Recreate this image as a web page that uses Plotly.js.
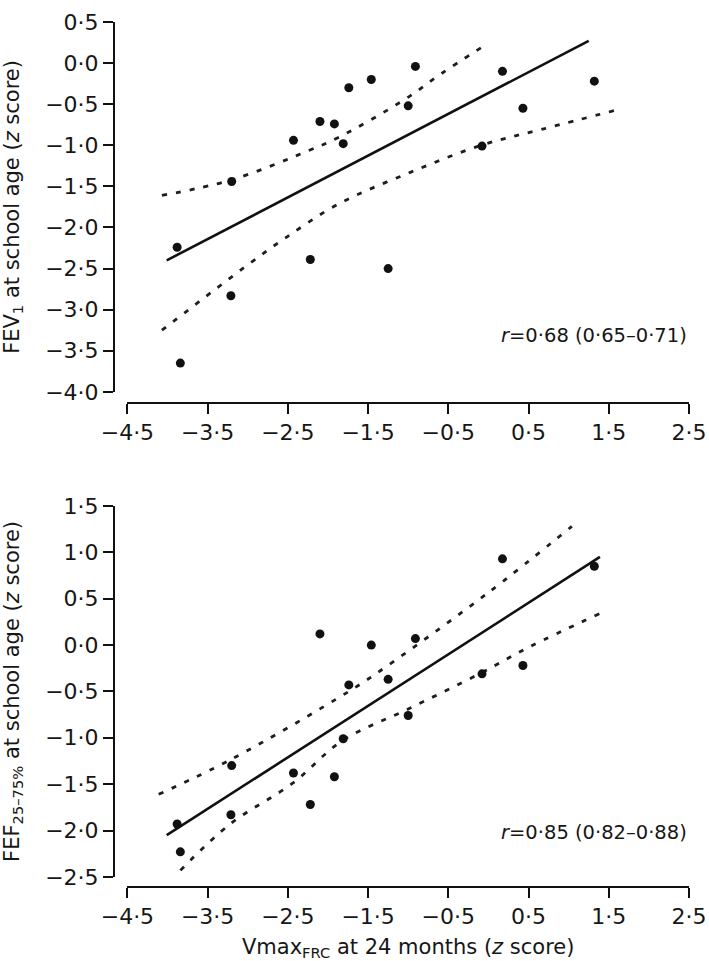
<!DOCTYPE html>
<html>
<head>
<meta charset="utf-8">
<script src="https://cdn.plot.ly/plotly-3.0.1.min.js"></script>
<style>
  body { margin: 0; background: #fff; }
  #chart { width: 709px; height: 961px; }
</style>
</head>
<body>
<div id="chart"></div>
<script>
// Vmax FRC at 24 months (z score), same children in both panels
var vmaxFrc = [-3.88, -3.84, -3.20, -3.21, -2.43, -2.22, -2.10, -1.92, -1.81,
               -1.74, -1.46, -1.25, -1.00, -0.91, -0.08, 0.175, 0.43, 1.32];

// top panel: FEV1 at school age
var fev1 = [-2.24, -3.65, -1.44, -2.83, -0.94, -2.39, -0.71, -0.74, -0.98,
            -0.30, -0.20, -2.50, -0.52, -0.04, -1.01, -0.10, -0.55, -0.22];
var fev1FitX = [-4.01, 1.25];
var fev1FitY = [-2.40, 0.27];
var fev1UpperX = [-4.07, -3.20, -2.23, -1.86, -1.04, -0.59, -0.07];
var fev1UpperY = [-1.61, -1.42, -1.06, -0.90, -0.44, -0.13, 0.20];
var fev1LowerX = [-4.07, -2.98, -2.52, -1.88, -1.00, -0.09, 0.69, 1.60];
var fev1LowerY = [-3.25, -2.44, -2.12, -1.72, -1.34, -1.00, -0.80, -0.57];

// bottom panel: FEF25-75% at school age
var fef = [-1.93, -2.23, -1.30, -1.83, -1.38, -1.72, 0.12, -1.42, -1.01,
           -0.43, 0.00, -0.37, -0.76, 0.07, -0.31, 0.93, -0.22, 0.85];
var fefFitX = [-4.01, 1.39];
var fefFitY = [-2.05, 0.95];
var fefUpperX = [-4.11, -3.20, -1.74, -1.27, -0.01, 1.04];
var fefUpperY = [-1.61, -1.23, -0.50, -0.23, 0.56, 1.28];
var fefLowerX = [-3.84, -3.22, -2.44, -1.82, -1.00, -0.09, 0.51, 1.39];
var fefLowerY = [-2.43, -1.93, -1.49, -1.03, -0.69, -0.30, -0.02, 0.34];

// axis ticks
var xTicks = [-4.5, -3.5, -2.5, -1.5, -0.5, 0.5, 1.5, 2.5];
var xTickText = ["−4·5", "−3·5", "−2·5", "−1·5", "−0·5", "0·5", "1·5", "2·5"];
var y1Ticks = [0.5, 0, -0.5, -1, -1.5, -2, -2.5, -3, -3.5, -4];
var y1TickText = ["0·5", "0·0", "−0·5", "−1·0", "−1·5", "−2·0", "−2·5", "−3·0", "−3·5", "−4·0"];
var y2Ticks = [1.5, 1, 0.5, 0, -0.5, -1, -1.5, -2, -2.5];
var y2TickText = ["1·5", "1·0", "0·5", "0·0", "−0·5", "−1·0", "−1·5", "−2·0", "−2·5"];

var ink = "#161616";
var dots = {color: "#111", size: 9};
var ci = {color: "#1e1e1e", width: 2.8, dash: "5px,9px", shape: "spline"};
var fit = {color: "#111", width: 2.6};

function pts(x, y, xa, ya) {
  return {x: x, y: y, xaxis: xa, yaxis: ya, mode: "markers", type: "scatter", marker: dots, hoverinfo: "x+y"};
}
function line(x, y, xa, ya, style) {
  return {x: x, y: y, xaxis: xa, yaxis: ya, mode: "lines", type: "scatter", line: style, hoverinfo: "skip"};
}

var data = [
  line(fev1UpperX, fev1UpperY, "x", "y", ci),
  line(fev1LowerX, fev1LowerY, "x", "y", ci),
  line(fev1FitX, fev1FitY, "x", "y", fit),
  pts(vmaxFrc, fev1, "x", "y"),
  line(fefUpperX, fefUpperY, "x2", "y2", ci),
  line(fefLowerX, fefLowerY, "x2", "y2", ci),
  line(fefFitX, fefFitY, "x2", "y2", fit),
  pts(vmaxFrc, fef, "x2", "y2")
];

var tickFont = {family: "DejaVu Sans, Arial, sans-serif", size: 22, color: ink};
var titleFont = {family: "DejaVu Sans, Arial, sans-serif", size: 21, color: ink};
var noteFont = {family: "DejaVu Sans, Arial, sans-serif", size: 19.5, color: ink};

function xAxis(pos, title) {
  var ax = {
    domain: [0.0233, 1], range: [-4.5, 2.5], anchor: "free", position: pos,
    showgrid: false, zeroline: false, showline: true, linecolor: "#111", linewidth: 2,
    ticks: "outside", ticklen: 10, tickwidth: 2, tickcolor: "#111",
    tickmode: "array", tickvals: xTicks, ticktext: xTickText, tickfont: tickFont
  };
  if (title) ax.title = {text: title, font: titleFont, standoff: 14};
  return ax;
}
function yAxis(dom, range, vals, text, title) {
  return {
    domain: dom, range: range, anchor: "free", position: 0,
    showgrid: false, zeroline: false, showline: true, linecolor: "#111", linewidth: 2,
    ticks: "outside", ticklen: 10, tickwidth: 2, tickcolor: "#111",
    tickmode: "array", tickvals: vals, ticktext: text, tickfont: tickFont,
    automargin: true,
    title: {text: title, font: titleFont, standoff: 20}
  };
}

var layout = {
  width: 709, height: 961,
  margin: {l: 110, r: 20, t: 10, b: 74},
  paper_bgcolor: "#fff", plot_bgcolor: "#fff",
  showlegend: false,
  xaxis: xAxis(0.5599, null),
  yaxis: yAxis([0.5724, 1], [-4, 0.5], y1Ticks, y1TickText, "FEV<sub>1</sub> at school age (<i>z</i> score)"),
  xaxis2: xAxis(0, "Vmax<sub>FRC</sub> at 24 months (<i>z</i> score)"),
  yaxis2: yAxis([0.0117, 0.4405], [-2.5, 1.5], y2Ticks, y2TickText, "FEF<sub>25–75%</sub> at school age (<i>z</i> score)"),
  annotations: [
    {xref: "x", yref: "y", x: 2.5, y: -3.32, xanchor: "right", yanchor: "middle", showarrow: false,
     text: "<i>r</i>=0·68 (0·65–0·71)", font: noteFont},
    {xref: "x2", yref: "y2", x: 2.5, y: -2.02, xanchor: "right", yanchor: "middle", showarrow: false,
     text: "<i>r</i>=0·85 (0·82–0·88)", font: noteFont}
  ]
};

Plotly.newPlot("chart", data, layout, {staticPlot: true});
</script>
</body>
</html>
